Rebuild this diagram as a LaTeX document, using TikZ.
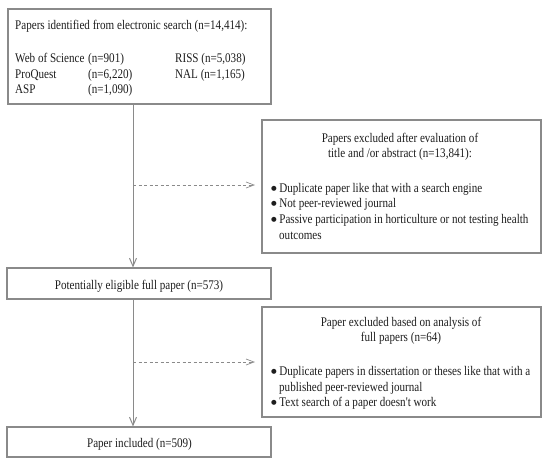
\documentclass[tikz,border=0pt]{standalone}
\usepackage{fontspec}
\setmainfont{Liberation Serif}[FakeStretch=0.84, Ligatures=TeXOff]
\newfontfamily\bulfont{DejaVu Sans}
\usetikzlibrary{arrows.meta}
\definecolor{boxline}{HTML}{8A8A8A}
\definecolor{txt}{HTML}{1E1E1E}
\newcommand{\bul}{\raisebox{1.6pt}{\bulfont\fontsize{6.5}{8}\selectfont ●}\hspace{2.5pt}}
\tikzset{
  box/.style={draw=boxline, line width=1.2pt, inner sep=0pt, fill=white},
  tx/.style={inner sep=0pt, text=txt, font=\fontsize{13.2}{15}\selectfont},
  txl/.style={tx, anchor=base west},
  txc/.style={tx, anchor=base},
  flow/.style={draw=boxline, line width=1pt, -{Straight Barb[length=8pt,width=7pt]}},
  side/.style={draw=boxline, line width=0.7pt, dashed, dash pattern=on 3pt off 2.5pt, -{Straight Barb[length=8pt,width=6pt]}}
}
\begin{document}
\begin{tikzpicture}[x=1pt,y=-1pt]
\useasboundingbox (0,0) rectangle (543,460);
% boxes
\node[box, minimum width=263pt, minimum height=95pt] (b1) at (139.5,56.5) {};
\node[box, minimum width=279pt, minimum height=133pt] (e1) at (401.5,186.5) {};
\node[box, minimum width=264pt, minimum height=31pt] (b2) at (139,283.5) {};
\node[box, minimum width=279pt, minimum height=110pt] (e2) at (401.5,362) {};
\node[box, minimum width=264pt, minimum height=30pt] (b3) at (139,442) {};
% box 1 text
\node[txl] (t11) at (15,30) {Papers identified from electronic search (n=14,414):};
\node[txl] (t12) at (15,63) {Web of Science};
\node[txl] (t13) at (88,63) {(n=901)};
\node[txl] (t14) at (175,63) {RISS (n=5,038)};
\node[txl] (t15) at (15,78) {ProQuest};
\node[txl] (t16) at (88,78) {(n=6,220)};
\node[txl] (t17) at (175,78) {NAL (n=1,165)};
\node[txl] (t18) at (15,93) {ASP};
\node[txl] (t19) at (88,93) {(n=1,090)};
% excluded 1 text
\node[txc] (t21) at (400,142) {Papers excluded after evaluation of};
\node[txc] (t22) at (400,157) {title and /or abstract (n=13,841):};
\node[txl] (t23) at (271,192) {\bul Duplicate paper like that with a search engine};
\node[txl] (t24) at (271,207) {\bul Not peer-reviewed journal};
\node[txl] (t25) at (271,223) {\bul Passive participation in horticulture or not testing health};
\node[txl] (t26) at (279,239) {outcomes};
% box 2 text
\node[txc] (t31) at (139,289) {Potentially eligible full paper (n=573)};
% excluded 2 text
\node[txc] (t41) at (401,326) {Paper excluded based on analysis of};
\node[txc] (t42) at (401,341) {full papers (n=64)};
\node[txl] (t43) at (271,375) {\bul Duplicate papers in dissertation or theses like that with a};
\node[txl] (t44) at (279,391) {published peer-reviewed journal};
\node[txl] (t45) at (271,406) {\bul Text search of a paper doesn't work};
% box 3 text
\node[txc] (t51) at (139.5,447) {Paper included (n=509)};
% connectors
\coordinate (ax) at (133,0);
\coordinate (d1) at (133,185);
\coordinate (d1e) at (255,185);
\coordinate (d2) at (133,362);
\coordinate (d2e) at (255,362);
\draw[flow] (b1.south -| ax) -- (b2.north -| ax);
\draw[flow] (b2.south -| ax) -- (b3.north -| ax);
\draw[side] (d1) -- (d1e);
\draw[side] (d2) -- (d2e);
\end{tikzpicture}
\end{document}
